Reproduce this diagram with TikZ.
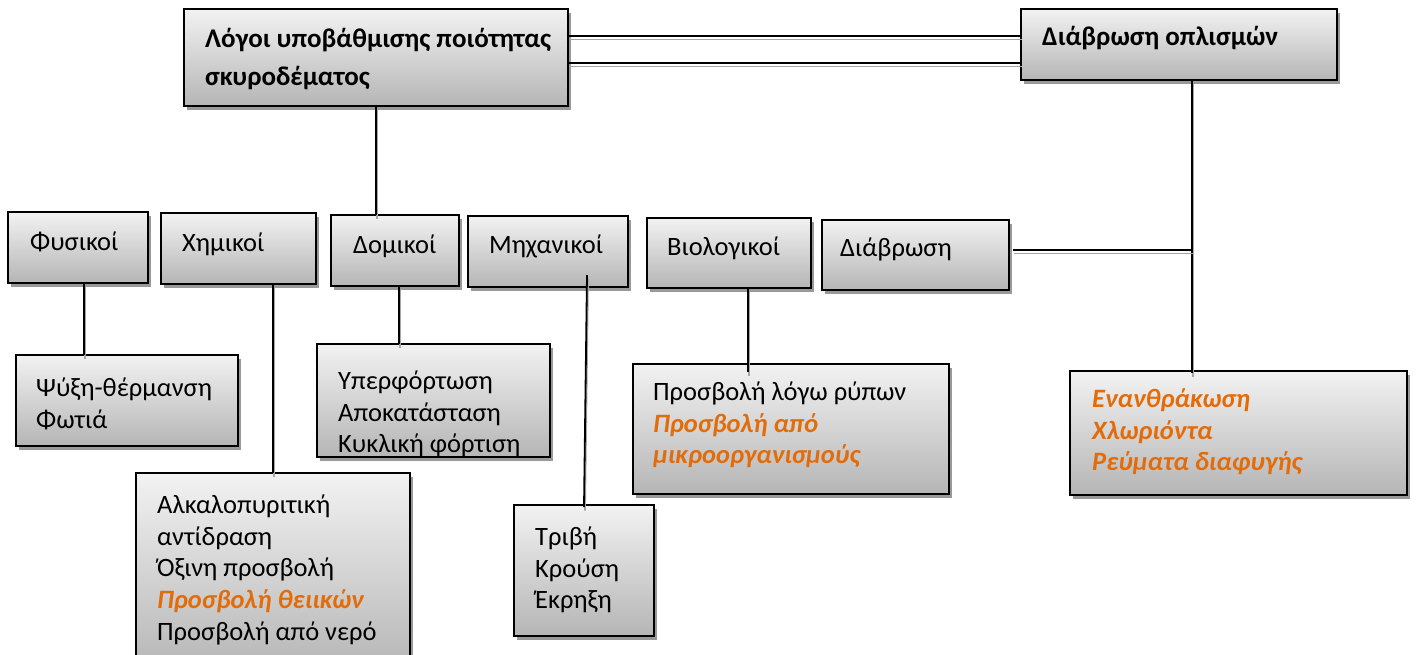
\documentclass[tikz,border=0pt]{standalone}
\usepackage{fontspec}
\setmainfont{Carlito}
\usetikzlibrary{shadows}
\definecolor{accent}{HTML}{E36C0A}
\newcommand{\bodyfont}{\fontsize{26.5}{31.8}\selectfont}
\newcommand{\headfont}{\fontsize{27}{38}\selectfont\bfseries}
\newcommand{\hot}[1]{{\color{accent}\bfseries\itshape #1}}

\begin{document}
\begin{tikzpicture}[x=1pt,y=-1pt,
  box/.style={draw=black, line width=1.8pt, anchor=north west, inner sep=0pt, outer sep=0pt,
    top color=black!5, bottom color=black!29,
    drop shadow={shadow xshift=3pt, shadow yshift=-4pt, fill=black!40, opacity=1}},
  body/.style={anchor=north west, inner sep=0pt, align=left, font=\bodyfont, yshift=22.26pt},
  head/.style={anchor=north west, inner sep=0pt, align=left, font=\headfont, yshift=26.6pt},
  link/.style={line width=1.8pt, black,
    preaction={draw=black!35, line width=1.8pt, transform canvas={shift={(1pt,-3.5pt)}}}}
]
\useasboundingbox (0,0) rectangle (1416,654);

% ---- boxes ----
\node[box, minimum width=384pt, minimum height=97pt] (main)  at (184,9)   {};
\node[box, minimum width=316pt, minimum height=71pt] (oplis) at (1021,9)  {};

\node[box, minimum width=140pt, minimum height=71pt] (fys)   at (8,212)   {};
\node[box, minimum width=155pt, minimum height=71pt] (xim)   at (161,213) {};
\node[box, minimum width=128pt, minimum height=71pt] (dom)   at (331,215) {};
\node[box, minimum width=160pt, minimum height=71pt] (mix)   at (468,216) {};
\node[box, minimum width=164pt, minimum height=70pt] (bio)   at (647,218) {};
\node[box, minimum width=187pt, minimum height=70pt] (diab)  at (822,220) {};

\node[box, minimum width=222pt, minimum height=91pt]  (psy)   at (16,355)   {};
\node[box, minimum width=233pt, minimum height=113pt] (hyp)   at (317,344)  {};
\node[box, minimum width=274pt, minimum height=200pt] (alk)   at (136,473)  {};
\node[box, minimum width=140pt, minimum height=131pt] (tri)   at (514,505)  {};
\node[box, minimum width=316pt, minimum height=130pt] (prosv) at (633,364)  {};
\node[box, minimum width=337pt, minimum height=124pt] (anth)  at (1070,371) {};

% ---- texts ----
\node[head] (main-t)  at (205,47)  {\strut Λόγοι υποβάθμισης ποιότητας\\σκυροδέματος};
\node[head] (oplis-t) at (1042,45) {\strut Διάβρωση οπλισμών};

\node[body] (fys-t)  at (30,250)  {\strut Φυσικοί};
\node[body] (xim-t)  at (182,251) {\strut Χημικοί};
\node[body] (dom-t)  at (353,253) {\strut Δομικοί};
\node[body] (mix-t)  at (489,253) {\strut Μηχανικοί};
\node[body] (bio-t)  at (667,255) {\strut Βιολογικοί};
\node[body] (diab-t) at (840,256) {\strut Διάβρωση};

\node[body] (psy-t) at (36,396) {\strut Ψύξη-θέρμανση\\Φωτιά};
% the last line overflows the box and is cut at its lower edge
\begin{scope}
  \clip (hyp.north west) rectangle ([yshift=1pt]hyp.south east);
  \node[body] (hyp-t) at (338,389) {\strut Υπερφόρτωση\\Αποκατάσταση\\Κυκλική φόρτιση};
\end{scope}
\node[body] (alk-t) at (157,513) {\strut Αλκαλοπυριτική\\αντίδραση\\Όξινη προσβολή\\\hot{Προσβολή θειικών}\\Προσβολή από νερό};
\node[body] (tri-t) at (535,545) {\strut Τριβή\\Κρούση\\Έκρηξη};
\node[body] (prosv-t) at (653,400) {\strut Προσβολή λόγω ρύπων\\\hot{Προσβολή από}\\\hot{μικροοργανισμούς}};
\node[body] (anth-t) at (1092,407) {\strut\hot{Ενανθράκωση}\\\hot{Χλωριόντα}\\\hot{Ρεύματα διαφυγής}};

% ---- connector end points ----
\coordinate (mixfoot) at (587,275);
\coordinate (trihead) at (584,507);
\coordinate (biohead) at (748,372);
\coordinate (anthhead) at (1192,373);
\coordinate (junction) at (1192,250);

% ---- connectors ----
\draw[link] (main.south -| 376,0) -- (dom.north -| 376,0);
\draw[link] (main.east |- 0,36) -- (oplis.west |- 0,36);
\draw[link] (main.east |- 0,63) -- (oplis.west |- 0,63);
\draw[link] (oplis.south -| junction) -- (anthhead);
\draw[link] ([xshift=4pt]diab.east |- junction) -- (junction);
\draw[link] (fys.south -| 84,0) -- (psy.north -| 84,0);
\draw[link] (xim.south -| 273,0) -- (alk.north -| 273,0);
\draw[link] (dom.south -| 399,0) -- (hyp.north -| 399,0);
\draw[link] (mixfoot) -- (trihead);
\draw[link] (bio.south -| biohead) -- (biohead);
\end{tikzpicture}
\end{document}
